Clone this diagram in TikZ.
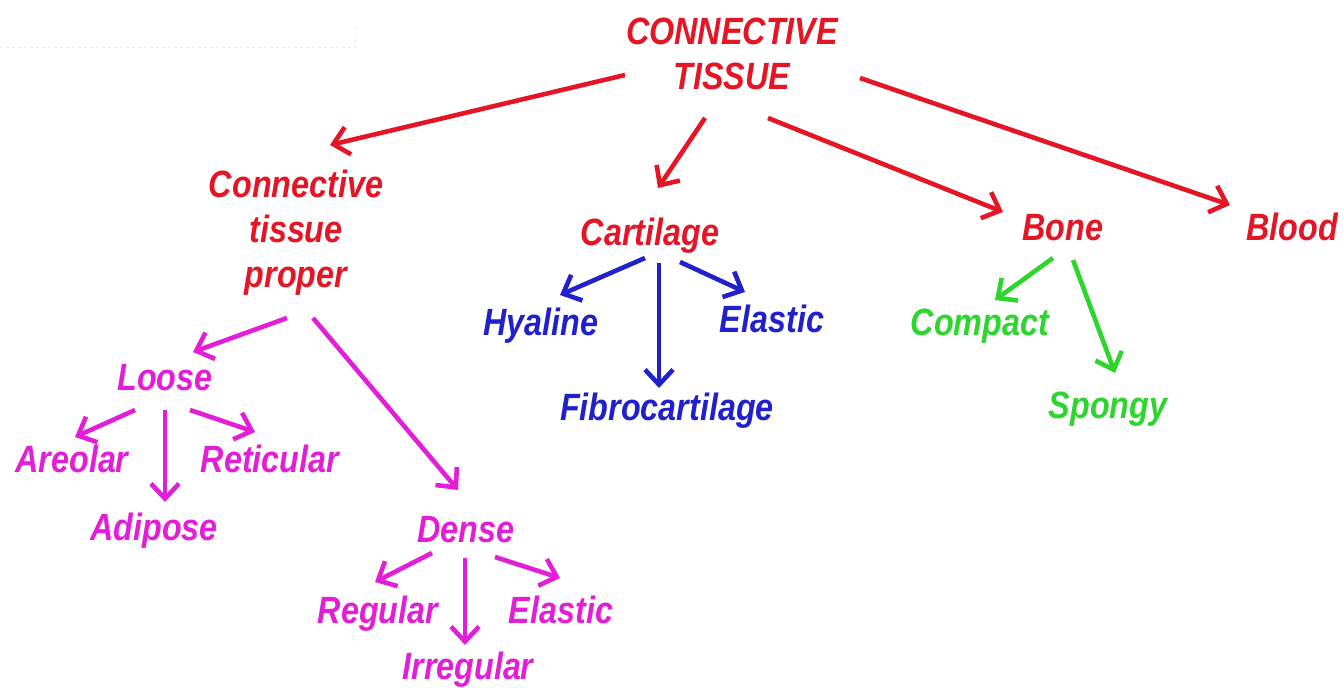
\documentclass[tikz,border=0pt]{standalone}
\usepackage{fontspec}
\setmainfont[FakeStretch=0.85]{Liberation Sans}
\usetikzlibrary{arrows.meta}
\definecolor{cred}{RGB}{228,22,38}
\definecolor{cmag}{RGB}{226,30,214}
\definecolor{cblue}{RGB}{32,32,205}
\definecolor{cgreen}{RGB}{45,214,45}
\begin{document}
\begin{tikzpicture}[x=1pt,y=-1pt,
  lbl/.style={inner sep=0pt,outer sep=0pt,font=\fontsize{38}{45}\selectfont\bfseries\itshape},
  lb/.style={lbl,anchor=base},
  arr/.style={line width=4.6pt,-{Straight Barb[length=15pt,width=28pt,line width=4.6pt]}},
  rarr/.style={arr,draw=cred},
  marr/.style={arr,draw=cmag},
  barr/.style={arr,draw=cblue},
  garr/.style={arr,draw=cgreen}]
\useasboundingbox (0,0) rectangle (1344,688);
\fill[white] (0,0) rectangle (1344,688);
% faint artifact at top left
\draw[black!8,line width=1pt,dashed] (0,47) -- (355,47) -- (355,25);
% nodes
\node[lbl,anchor=north,align=center,text=cred] (top) at (732,18) {CONNECTIVE\\TISSUE};
\node[lbl,anchor=north,align=center,text=cred] (ctp) at (296,170) {Connective\\tissue\\proper};
\node[lb,text=cred] (cart) at (650,245) {Cartilage};
\node[lb,text=cred] (bone) at (1063,240) {Bone};
\node[lb,text=cred] (blood) at (1292,240) {Blood};
\node[lb,text=cmag] (loose) at (165,390) {Loose};
\node[lb,text=cmag] (areolar) at (72,472) {Areolar};
\node[lb,text=cmag] (reticular) at (270,472) {Reticular};
\node[lb,text=cmag] (adipose) at (154,540) {Adipose};
\node[lb,text=cmag] (dense) at (466,542) {Dense};
\node[lb,text=cmag] (regular) at (378,623) {Regular};
\node[lb,text=cmag] (elasticm) at (561,623) {Elastic};
\node[lb,text=cmag] (irregular) at (468,679) {Irregular};
\node[lb,text=cblue] (hyaline) at (541,335) {Hyaline};
\node[lb,text=cblue] (elasticb) at (772,332) {Elastic};
\node[lb,text=cblue] (fibro) at (667,420) {Fibrocartilage};
\node[lb,text=cgreen] (compact) at (980,335) {Compact};
\node[lb,text=cgreen] (spongy) at (1108,418) {Spongy};
% red connectors
\draw[rarr] ([shift={(-107,57)}]top.north) -- ([shift={(34,-25)}]ctp.north);
\draw[rarr] ([shift={(-27,100)}]top.north) -- ([shift={(8,-57)}]cart.base);
\draw[rarr] ([shift={(36,100)}]top.north) -- ([shift={(-60,-28)}]bone.base);
\draw[rarr] ([shift={(128,60)}]top.north) -- ([shift={(-62,-35)}]blood.base);
% magenta connectors
\draw[marr] ([shift={(-9,148)}]ctp.north) -- ([shift={(28,-38)}]loose.base);
\draw[marr] ([shift={(17,148)}]ctp.north) -- ([shift={(-8,-52)}]dense.base);
\draw[marr] ([shift={(-30,20)}]loose.base) -- ([shift={(3,-35)}]areolar.base);
\draw[marr] ([shift={(0,20)}]loose.base) -- ([shift={(11,-38)}]adipose.base);
\draw[marr] ([shift={(25,20)}]loose.base) -- ([shift={(-15,-40)}]reticular.base);
\draw[marr] ([shift={(-34,11)}]dense.base) -- ([shift={(-3,-41)}]regular.base);
\draw[marr] ([shift={(-1,16)}]dense.base) -- ([shift={(-3,-34)}]irregular.base);
\draw[marr] ([shift={(29,15)}]dense.base) -- ([shift={(-1,-45)}]elasticm.base);
% blue connectors
\draw[barr] ([shift={(-5,13)}]cart.base) -- ([shift={(19,-40)}]hyaline.base);
\draw[barr] ([shift={(9,18)}]cart.base) -- ([shift={(-8,-32)}]fibro.base);
\draw[barr] ([shift={(30,17)}]cart.base) -- ([shift={(-27,-40)}]elasticb.base);
% green connectors
\draw[garr] ([shift={(-10,18)}]bone.base) -- ([shift={(15,-35)}]compact.base);
\draw[garr] ([shift={(10,20)}]bone.base) -- ([shift={(7,-45)}]spongy.base);
\end{tikzpicture}
\end{document}
